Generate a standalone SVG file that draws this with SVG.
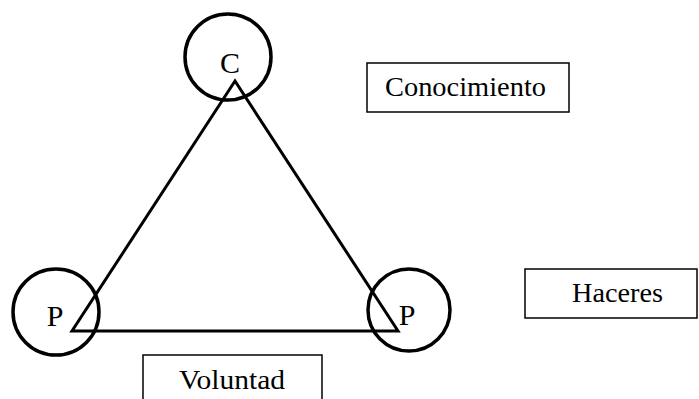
<svg xmlns="http://www.w3.org/2000/svg" width="699" height="399" viewBox="0 0 699 399">
<style>
.ring{fill:none;stroke:#000;stroke-width:3.5}
.box{fill:#fff;stroke:#000;stroke-width:1.5}
.t{font-family:"Liberation Serif","Times New Roman",serif;fill:#000}
.lbl{font-size:27px}
.big{font-size:30px}
</style>
<rect width="699" height="399" fill="#fff"/>
<g id="connectors">
<polygon points="235,81 72,331 398,331" fill="none" stroke="#000" stroke-width="3" stroke-linejoin="miter"/>
</g>
<g id="node-c">
<circle class="ring" cx="228" cy="57" r="43"/>
<text class="t big" x="230" y="73" text-anchor="middle">C</text>
</g>
<g id="node-p-left">
<circle class="ring" cx="56" cy="312" r="43"/>
<text class="t big" x="55" y="326" text-anchor="middle">P</text>
</g>
<g id="node-p-right">
<circle class="ring" cx="409" cy="310" r="41"/>
<text class="t big" x="407" y="325" text-anchor="middle">P</text>
</g>
<g id="box-conocimiento">
<rect class="box" x="367" y="63" width="202" height="49"/>
<text class="t lbl" x="385" y="96" textLength="161" lengthAdjust="spacingAndGlyphs">Conocimiento</text>
</g>
<g id="box-haceres">
<rect class="box" x="525" y="269" width="172" height="49"/>
<text class="t lbl" x="572" y="302" textLength="91" lengthAdjust="spacingAndGlyphs">Haceres</text>
</g>
<g id="box-voluntad">
<rect class="box" x="143" y="355" width="179" height="60"/>
<text class="t lbl" x="179" y="389" textLength="106" lengthAdjust="spacingAndGlyphs">Voluntad</text>
</g>
</svg>
